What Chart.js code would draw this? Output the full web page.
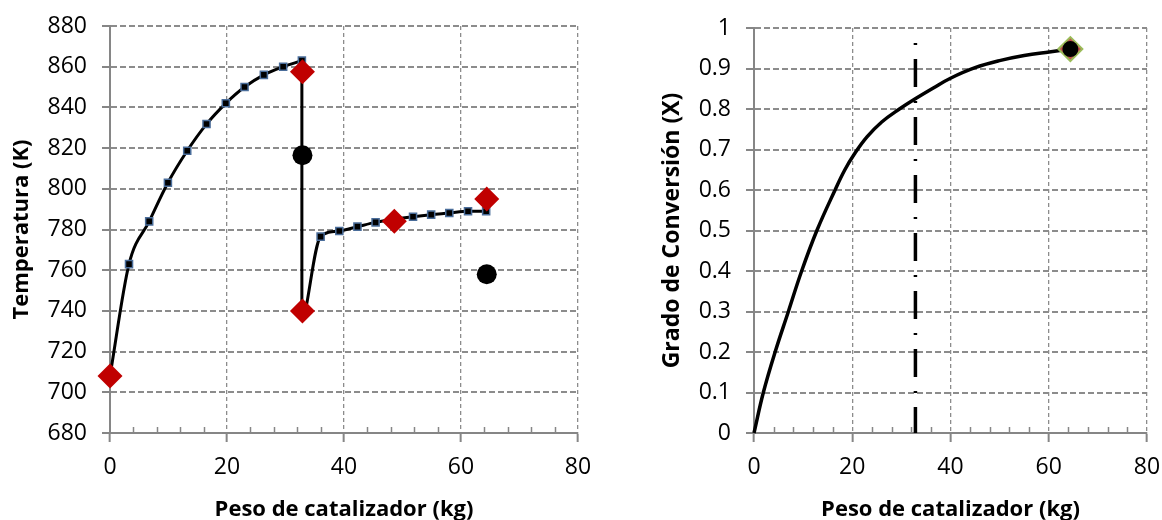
<!DOCTYPE html>
<html>
<head>
<meta charset="utf-8">
<script src="https://cdn.jsdelivr.net/npm/chart.js@4.4.1/dist/chart.umd.min.js"></script>
<style>
  html, body { margin: 0; background: #fff; overflow: hidden; }
  #left { position: absolute; left: 0; top: 0; }
  #right { position: absolute; left: 650px; top: 0; }
</style>
</head>
<body>
<canvas id="left" width="600" height="523"></canvas>
<canvas id="right" width="512" height="523"></canvas>
<script>
// lecho 1
const lecho1Peso = [0, 3.25, 6.7, 9.9, 13.2, 16.5, 19.8, 23.0, 26.3, 29.6, 32.8]
const lecho1Temp = [708, 763, 784, 803, 818.7, 831.8, 842, 850, 856, 860, 863]
// enfriamiento entre lechos
const enfriaPeso = [32.8, 32.8]
const enfriaTemp = [863, 740]
// lecho 2
const lecho2Peso = [33.4, 36.0, 39.2, 42.3, 45.4, 48.5, 51.8, 54.9, 58.0, 61.2, 64.3]
const lecho2Temp = [740, 776.5, 779.3, 781.4, 783.5, 785, 786.3, 787.3, 788.1, 789, 789]
// marcadores
const rombosPeso = [0, 32.9, 32.9, 48.6, 64.4]
const rombosTemp = [708, 857.5, 740, 784, 795]
const circPeso = [32.9, 64.4]
const circTemp = [816.5, 758]

// conversion
const convPeso = [0, 1.9, 4.3, 7.0, 9.7, 12.8, 16.5, 18.5, 20.5, 23, 26, 29.6, 33, 36.5, 40, 45, 50.2, 55, 60.1, 64.4]
const convX = [0, 0.1, 0.20, 0.30, 0.40, 0.50, 0.60, 0.65, 0.69, 0.731, 0.768, 0.80, 0.8265, 0.852, 0.876, 0.902, 0.92, 0.932, 0.941, 0.948]
const cortePeso = [32.86, 32.86]
const corteX = [0.963, 0]
const finPeso = [64.4]
const finX = [0.948]

const xTicks = [0, 20, 40, 60, 80]

const pts = (xs, ys) => xs.map((x, i) => ({x: x, y: ys[i]}))

Chart.defaults.font.family = "'Open Sans', sans-serif"
Chart.defaults.color = '#000'

const minorTicks = {
    id: 'minorTicks',
    beforeDatasetsDraw(chart) {
        const sx = chart.scales.x
        const ctx = chart.ctx
        const bottom = chart.chartArea.bottom
        ctx.save()
        ctx.strokeStyle = '#868686'
        ctx.lineWidth = 1.5
        for (let v = 4; v < 80; v += 4) {
            if (v % 20 === 0) continue
            const px = Math.round(sx.getPixelForValue(v)) + 0.5
            ctx.beginPath()
            ctx.moveTo(px, bottom)
            ctx.lineTo(px, bottom - 6)
            ctx.stroke()
        }
        ctx.restore()
    }
}

const fmt = v => Number(v.toFixed(2)).toString()

function scales(yMin, yMax, yStep, yTitle, yTitleSize, yWidth) {
    return {
        x: {
            type: 'linear', min: xTicks[0], max: xTicks[xTicks.length - 1],
            afterBuildTicks: s => { s.ticks = xTicks.map(v => ({value: v})) },
            ticks: { font: {size: 23}, padding: 12, maxRotation: 0, callback: fmt },
            grid: { color: '#8c8c8c', lineWidth: 1.3, tickLength: 9, tickColor: '#868686', tickWidth: 2 },
            border: { color: '#868686', width: 2, dash: [4, 3] },
            title: { display: true, text: 'Peso de catalizador (kg)', font: {size: 22, weight: 'bold'}, padding: {top: 0, bottom: 0} },
            afterFit: s => { s.height = 90; s.paddingLeft = 0; s.paddingRight = 0 }
        },
        y: {
            type: 'linear', min: yMin, max: yMax,
            ticks: { stepSize: yStep, font: {size: 23}, padding: 15, callback: fmt },
            grid: { color: '#8c8c8c', lineWidth: 2, tickLength: 8, tickColor: '#868686', tickWidth: 2 },
            border: { color: '#868686', width: 2, dash: [6, 3] },
            title: { display: true, text: yTitle, font: {size: yTitleSize, weight: 'bold'}, padding: {top: 9, bottom: 0} },
            afterFit: s => { s.width = yWidth; s.paddingTop = 0; s.paddingBottom = 0 }
        }
    }
}

const common = {
    responsive: false,
    animation: false,
    events: [],
    plugins: { legend: {display: false}, tooltip: {enabled: false} }
}

new Chart(document.getElementById('left').getContext('2d'), {
    type: 'scatter',
    data: {
        datasets: [{
            data: pts(circPeso, circTemp),
            pointStyle: 'circle', pointRadius: 10,
            backgroundColor: '#000', borderColor: '#000', borderWidth: 0,
            order: 0, clip: false
        }, {
            data: pts(rombosPeso, rombosTemp),
            pointStyle: 'rectRot', pointRadius: 12.5,
            backgroundColor: '#c00000', borderColor: '#c00000', borderWidth: 0,
            order: 1, clip: false
        }, {
            data: pts(lecho1Peso, lecho1Temp),
            showLine: true, borderColor: '#000', borderWidth: 3,
            cubicInterpolationMode: 'monotone',
            pointStyle: 'rect', pointRadius: 5,
            pointBackgroundColor: '#000', pointBorderColor: '#4a6d9a', pointBorderWidth: 1.5,
            order: 2, clip: false
        }, {
            data: pts(lecho2Peso, lecho2Temp),
            showLine: true, borderColor: '#000', borderWidth: 3,
            cubicInterpolationMode: 'monotone',
            pointStyle: 'rect', pointRadius: 5,
            pointBackgroundColor: '#000', pointBorderColor: '#4a6d9a', pointBorderWidth: 1.5,
            order: 2, clip: false
        }, {
            data: pts(enfriaPeso, enfriaTemp),
            showLine: true, borderColor: '#000', borderWidth: 3, pointRadius: 0,
            order: 3, clip: false
        }]
    },
    options: Object.assign({
        layout: { padding: {top: 26, right: 22, left: 0, bottom: 0} },
        scales: scales(680, 880, 20, 'Temperatura (K)', 22, 110)
    }, common),
    plugins: [minorTicks]
})

new Chart(document.getElementById('right').getContext('2d'), {
    type: 'scatter',
    data: {
        datasets: [{
            data: pts(finPeso, finX),
            pointStyle: 'circle', pointRadius: 8,
            backgroundColor: '#000', borderColor: '#000', borderWidth: 0,
            order: 0, clip: false
        }, {
            data: pts(finPeso, finX),
            pointStyle: 'rectRot', pointRadius: 12,
            backgroundColor: '#c0504d', borderColor: '#9bbb59', borderWidth: 2,
            order: 1, clip: false
        }, {
            data: pts(convPeso, convX),
            showLine: true, borderColor: '#000', borderWidth: 3.5, pointRadius: 0,
            tension: 0.4,
            order: 2, clip: false
        }, {
            data: pts(cortePeso, corteX),
            showLine: true, borderColor: '#000', borderWidth: 3.5, pointRadius: 0,
            borderDash: [2, 14, 28, 14], borderCapStyle: 'butt',
            order: 3, clip: false
        }]
    },
    options: Object.assign({
        layout: { padding: {top: 28, right: 15, left: 0, bottom: 0} },
        scales: scales(0, 1, 0.1, 'Grado de Conversión (X)', 23, 104)
    }, common),
    plugins: [minorTicks]
})
</script>
</body>
</html>
